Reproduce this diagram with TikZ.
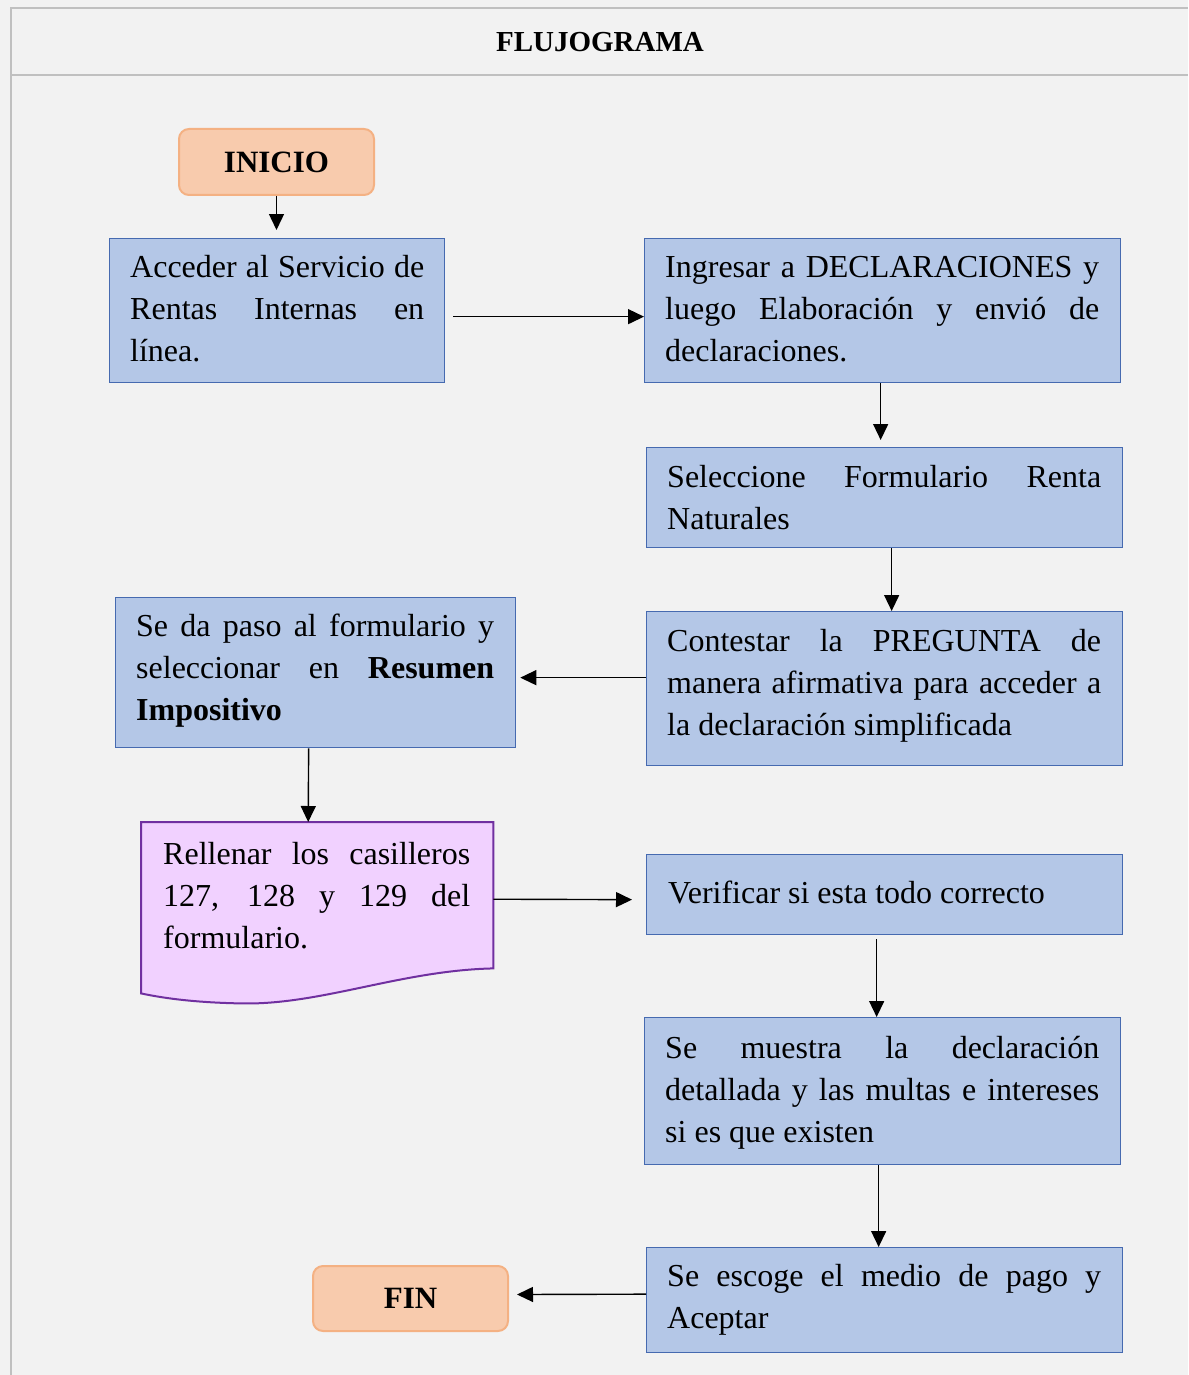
\documentclass[tikz,border=0pt]{standalone}
\usepackage{fontspec}
\setmainfont{Liberation Serif}
\usetikzlibrary{arrows.meta,calc}
\definecolor{bg}{RGB}{242,242,242}
\definecolor{framec}{RGB}{192,192,192}
\definecolor{boxfill}{RGB}{180,199,231}
\definecolor{boxdraw}{RGB}{70,106,176}
\definecolor{termfill}{RGB}{248,203,173}
\definecolor{termdraw}{RGB}{244,177,131}
\definecolor{docfill}{RGB}{241,209,255}
\definecolor{docdraw}{RGB}{112,48,160}
\newcommand{\jt}[2]{\parbox[t]{#1}{\hyphenpenalty=10000\exhyphenpenalty=10000 #2}}
\begin{document}
\begin{tikzpicture}[x=1pt,y=-1pt,
  box/.style={draw=boxdraw,fill=boxfill,line width=1.3pt,inner sep=0pt,anchor=north west},
  term/.style={draw=termdraw,fill=termfill,line width=2pt,rounded corners=10pt,inner sep=0pt,anchor=north west,font=\fontsize{31}{37}\selectfont\bfseries},
  txt/.style={inner sep=0pt,anchor=base west,font=\fontsize{32}{42}\selectfont},
  arr/.style={-{Triangle[length=16pt,width=15pt]},line width=1.4pt},
  framel/.style={draw=framec,line width=2pt},
  docst/.style={draw=docdraw,fill=docfill,line width=2pt,line join=miter}]
\useasboundingbox (0,0) rectangle (1188,1375);
\fill[bg] (0,0) rectangle (1188,1375);
\draw[framel] (11,1375) -- (11,8) -- (1188,8);
\draw[framel] (11,75) -- (1188,75);
\node[inner sep=0pt,anchor=base,font=\fontsize{29}{35}\selectfont\bfseries] (title) at (600,52) {FLUJOGRAMA};

% terminals
\node[term,minimum width=195pt,minimum height=66pt] (inicio) at (178,128) {INICIO};
\node[term,minimum width=195pt,minimum height=65pt] (fin) at (312,1265) {FIN};

% process boxes
\node[box,minimum width=335pt,minimum height=144pt] (acc) at (109,238) {};
\node[box,minimum width=476pt,minimum height=144pt] (ing) at (644,238) {};
\node[box,minimum width=476pt,minimum height=100pt] (sel) at (646,447) {};
\node[box,minimum width=476pt,minimum height=154pt] (cont) at (646,611) {};
\node[box,minimum width=400pt,minimum height=150pt] (paso) at (115,597) {};
\node[box,minimum width=476pt,minimum height=80pt] (ver) at (646,854) {};
\node[box,minimum width=476pt,minimum height=147pt] (mue) at (644,1017) {};
\node[box,minimum width=476pt,minimum height=105pt] (esc) at (646,1247) {};

% document shape
\node[inner sep=0pt,minimum width=352pt,minimum height=146pt,anchor=north west] (doc) at (141,822) {};
\draw[docst] (doc.north west) -- (doc.north east) -- (doc.south east)
  .. controls ($(doc.south east)+(-93,2)$) and ($(doc.south east)+(-173,37)$) .. ($(doc.south east)+(-253,35)$)
  .. controls ($(doc.south west)+(49,34)$) and ($(doc.south west)+(19,29)$) .. ($(doc.south west)+(0,25)$)
  -- cycle;

% texts
\node[txt] (acct) at (130,277) {\jt{294pt}{Acceder al Servicio de\linebreak Rentas Internas en\linebreak línea.}};
\node[txt] (ingt) at (665,277) {\jt{434pt}{Ingresar a DECLARACIONES y\linebreak luego Elaboración y envió de\linebreak declaraciones.}};
\node[txt] (selt) at (667,487) {\jt{434pt}{Seleccione Formulario Renta\linebreak Naturales}};
\node[txt] (contt) at (667,651) {\jt{434pt}{Contestar la PREGUNTA de\linebreak manera afirmativa para acceder a\linebreak la declaración simplificada}};
\node[txt] (pasot) at (136,636) {\jt{358pt}{Se da paso al formulario y\linebreak seleccionar en \textbf{Resumen}\linebreak \textbf{Impositivo}}};
\node[txt] (doct) at (163,864) {\jt{307pt}{Rellenar los casilleros\linebreak 127, 128 y 129 del\linebreak formulario.}};
\node[txt] (vert) at (668,903) {Verificar si esta todo correcto};
\node[txt] (muet) at (665,1058) {\jt{434pt}{Se muestra la declaración\linebreak detallada y las multas e intereses\linebreak si es que existen}};
\node[txt] (esct) at (667,1286) {\jt{434pt}{Se escoge el medio de pago y\linebreak Aceptar}};

% connectors
\draw[arr] (inicio.south) -- ($(inicio.south |- acc.north)+(0,-8)$);
\draw[arr] ($(acc.east)+(8,6)$) -- ($(ing.west)+(0,6)$);
\draw[arr] ($(ing.south)+(-2,0)$) -- ($(sel.north)+(-4,-7)$);
\draw[arr] ($(sel.south)+(7,0)$) -- ($(cont.north)+(7,0)$);
\draw[arr] ($(cont.west)+(0,-11)$) -- ($(paso.east)+(4,5)$);
\draw[arr] ($(paso.south)+(-7,0)$) -- ($(doc.north)+(-9,0)$);
\draw[arr] ($(doc.east)+(0,4)$) -- ($(ver.west)+(-14,5)$);
\draw[arr] ($(ver.south)+(-8,4)$) -- ($(mue.north)+(-6,0)$);
\draw[arr] ($(mue.south)+(-4,0)$) -- ($(esc.north)+(-6,0)$);
\draw[arr] ($(esc.west)+(0,-6)$) -- ($(fin.east)+(8,-4)$);
\end{tikzpicture}
\end{document}
